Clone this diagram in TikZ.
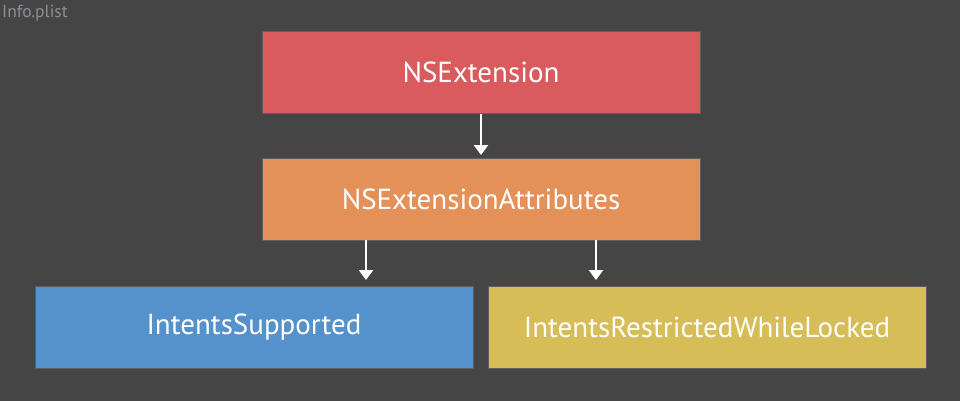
\documentclass[tikz,border=0pt]{standalone}
\usepackage{fontspec}
\setmainfont{PT Sans}
\usetikzlibrary{arrows.meta}
\definecolor{bg}{HTML}{454545}
\definecolor{cred}{HTML}{D95B5D}
\definecolor{corange}{HTML}{E39159}
\definecolor{cblue}{HTML}{5592CB}
\definecolor{cyellow}{HTML}{D7BD58}
\definecolor{ctitle}{HTML}{8A8F98}
\definecolor{cedge}{HTML}{5E5E60}
\begin{document}
\begin{tikzpicture}[x=1pt,y=-1pt,
  box/.style={draw=cedge, line width=0.8pt, minimum width=438pt, minimum height=82pt, inner sep=0pt, text=white, font=\fontsize{29}{33}\selectfont},
  arr/.style={draw=white, line width=2.4pt, -{Triangle[length=10pt,width=14pt]}}]
\fill[bg] (0,0) rectangle (960,401);
\useasboundingbox (0,0) rectangle (960,401);
\node[anchor=north west, text=ctitle, inner sep=0pt, font=\fontsize{17.5}{20}\selectfont] (title) at (2,5) {Info.plist};
\node[box, fill=cred] (ext) at (481,72.5) {NSExtension};
\node[box, fill=corange] (attr) at (481,199) {NSExtensionAttributes};
\node[box, fill=cblue] (sup) at (254,327.5) {IntentsSupported};
\node[box, fill=cyellow] (lock) at (707,327.5) {IntentsRestrictedWhileLocked};
\coordinate (a1) at (481,155);
\coordinate (a2) at (366,280);
\coordinate (a3) at (596,280);
\draw[arr] (ext.south) -- (a1);
\draw[arr] (attr.south -| a2) -- (a2);
\draw[arr] (attr.south -| a3) -- (a3);
\end{tikzpicture}
\end{document}
